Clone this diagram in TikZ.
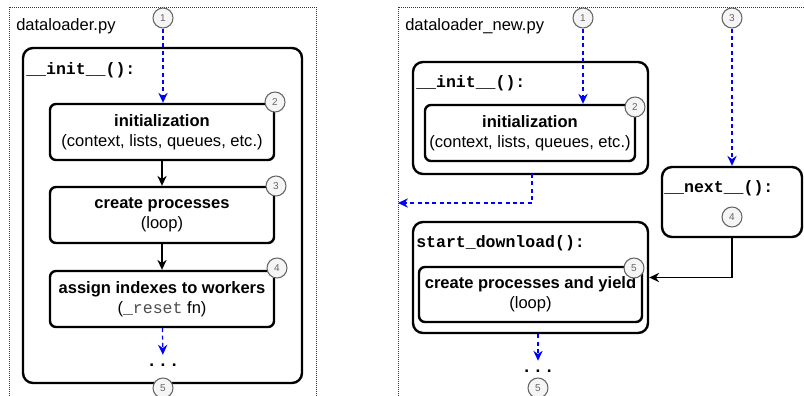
\documentclass[tikz,border=0pt]{standalone}
\usepackage{fontspec}
\setmainfont{Liberation Sans}
\setmonofont{Liberation Mono}
\usetikzlibrary{arrows.meta}
\definecolor{dblue}{HTML}{0000FF}
\definecolor{cgray}{HTML}{666666}
\definecolor{cfill}{HTML}{F5F5F5}
\tikzset{
 sz/.style 2 args={minimum width=#1*0.75pt, minimum height=#2*0.75pt},
 outerbox/.style={draw, line width=1.8pt, rounded corners=7.5pt, inner sep=0pt},
 innerbox/.style={draw, line width=1.8pt, rounded corners=4.5pt, inner sep=0pt, align=center, font=\fontsize{12.4}{15}\selectfont},
 num/.style={circle, draw=cgray, fill=cfill, line width=0.8pt, minimum size=15pt, inner sep=0pt, text=cgray, font=\fontsize{7.5}{8}\selectfont},
 frame/.style={draw=black!80, line width=0.6pt, dash pattern=on 0.75pt off 0.75pt},
 flow/.style={-{Stealth[length=7.5pt,width=7pt,inset=2.5pt]}, line width=0.9pt},
 bflow/.style={flow, dblue, dash pattern=on 3pt off 2.5pt},
 fname/.style={anchor=west, inner sep=0pt, font=\ttfamily\bfseries\fontsize{12.4}{15}\selectfont},
 title/.style={anchor=west, inner sep=0pt, font=\fontsize{12.4}{15}\selectfont},
 dotsnode/.style={inner sep=0pt, minimum height=15pt, font=\bfseries\fontsize{13}{15}\selectfont}
}
\begin{document}
\begin{tikzpicture}[x=0.75pt, y=-0.75pt]
\useasboundingbox (0,0) rectangle (804,396);
\begin{scope}
\clip (0,0) rectangle (804,396);
\draw[frame] (9,7) rectangle (316,410);
\draw[frame] (398,7) rectangle (812,410);
\end{scope}
\node[title] (tL) at (16,26) {dataloader.py};
\node[title] (tR) at (405,26) {dataloader\_new.py};

% ---------- left ----------
\node[outerbox, sz={279}{335}] (outerL) at (162.5,215.5) {};
\node[fname] (fL) at (26,70) {\_\_init\_\_():};
\node[innerbox, sz={224}{56}] (initL) at (162,132) {\textbf{initialization}\\(context, lists, queues, etc.)};
\node[innerbox, sz={224}{56}] (createL) at (162,215) {\textbf{create processes}\\(loop)};
\node[innerbox, sz={224}{56}] (assignL) at (162,299) {\textbf{assign indexes to workers}\\({\ttfamily\color{black!70}\_reset} fn)};
\node[dotsnode] (dotsL) at (163,365) {. . .};
\node[num] (l1) at (163,18) {1};
\node[num] (l2) at (275,102) {2};
\node[num] (l3) at (276,186) {3};
\node[num] (l4) at (277,268) {4};
\node[num] (l5) at (163,388) {5};
\draw[bflow] (l1) -- (l1 |- initL.north);
\draw[flow] (initL) -- (createL);
\draw[flow] (createL) -- (assignL);
\draw[bflow] (assignL) -- (dotsL);

% ---------- right ----------
\node[outerbox, sz={235}{112}] (initRo) at (530.5,118) {};
\node[fname] (fR1) at (416,83) {\_\_init\_\_():};
\node[innerbox, sz={210}{56}] (initR) at (530,133) {\textbf{initialization}\\(context, lists, queues, etc.)};
\node[outerbox, sz={235}{111}] (startR) at (530.5,277.5) {};
\node[fname] (fR2) at (416,243) {start\_download():};
\node[innerbox, sz={223}{55}] (createR) at (530.5,294.5) {\textbf{create processes and yield}\\(loop)};
\node[outerbox, sz={140}{70}] (nextR) at (732,202) {};
\node[fname] (fR3) at (664,188) {\_\_next\_\_():};
\node[dotsnode] (dotsR) at (538,371) {. . .};
\node[num] (r1) at (583,18) {1};
\node[num] (r2) at (635,107) {2};
\node[num] (r3) at (732,18) {3};
\node[num] (r4) at (732,217) {4};
\node[num] (r5) at (634,268) {5};
\node[num] (r6) at (538,388) {5};
\coordinate (leftexit) at (398,203);
\coordinate (initdown) at (532,174);
\draw[bflow] (r1) -- (r1 |- initR.north);
\draw[bflow] (initdown) |- (leftexit);
\draw[bflow] (r3) -- (nextR);
\draw[flow] (nextR.south) |- (startR.east);
\draw[bflow] (startR.south -| dotsR) -- (dotsR);
\end{tikzpicture}
\end{document}
